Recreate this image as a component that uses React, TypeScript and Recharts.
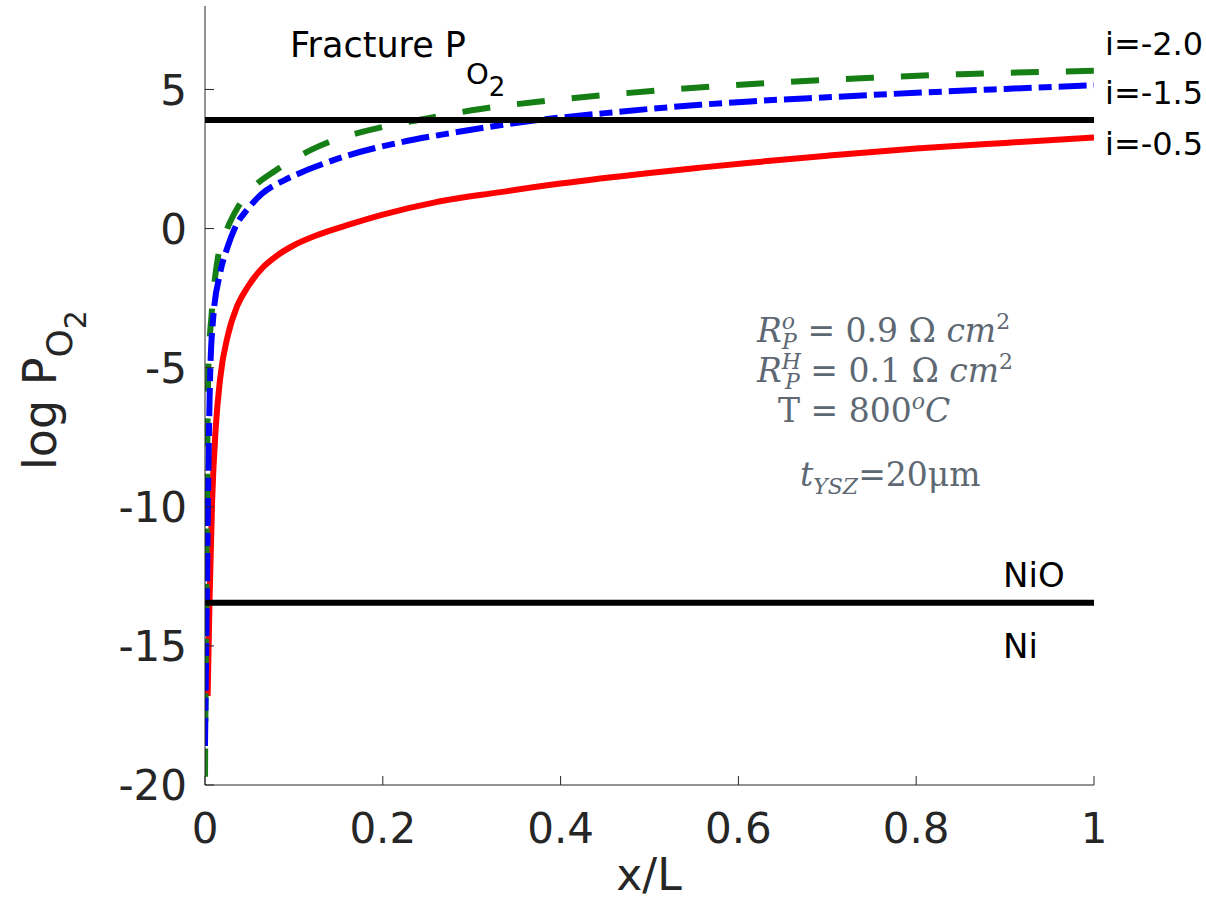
import React from 'react';
import { LineChart, Line, XAxis, YAxis, ReferenceLine } from 'recharts';

// axis ticks
const xTicks = [0, 0.2, 0.4, 0.6, 0.8, 1];
const yTicks = [-20, -15, -10, -5, 0, 5];

// horizontal reference levels (log PO2)
const fracturePO2 = 3.9;
const nioBoundary = -13.45;

// i = -0.5 (red, solid)
const xRed = [0.003, 0.005, 0.008, 0.012, 0.017, 0.026, 0.036, 0.048, 0.065, 0.082, 0.1, 0.125, 0.16, 0.2, 0.26, 0.33, 0.4, 0.5, 0.56, 0.61, 0.7, 0.8, 0.9, 1.0];
const logRed = [-16.8, -13.5, -9.8, -7.2, -5.4, -3.8, -2.8, -2.1, -1.4, -0.95, -0.6, -0.25, 0.12, 0.5, 0.95, 1.3, 1.62, 2.0, 2.2, 2.36, 2.62, 2.88, 3.08, 3.27];

// i = -1.5 (blue, dash-dot)
const xBlue = [0, 0.001, 0.002, 0.0035, 0.0056, 0.009, 0.017, 0.025, 0.034, 0.048, 0.064, 0.09, 0.107, 0.124, 0.16, 0.22, 0.28, 0.37, 0.45, 0.557, 0.613, 0.7, 0.8, 0.9, 1.0];
const logBlue = [-18.6, -16.0, -13.5, -9.5, -5.5, -3.3, -1.6, -0.7, 0.05, 0.7, 1.25, 1.75, 2.0, 2.22, 2.62, 3.1, 3.45, 3.88, 4.15, 4.45, 4.57, 4.72, 4.88, 5.02, 5.15];

// i = -2.0 (green, dashed)
const xGreen = [0, 0.001, 0.002, 0.0037, 0.0075, 0.0146, 0.025, 0.037, 0.055, 0.079, 0.1, 0.124, 0.14, 0.18, 0.257, 0.3, 0.38, 0.45, 0.568, 0.65, 0.75, 0.85, 1.0];
const logGreen = [-19.7, -15.0, -10.5, -5.1, -3.06, -1.03, 0.0, 0.77, 1.5, 2.08, 2.5, 2.9, 3.12, 3.5, 4.0, 4.25, 4.58, 4.8, 5.1, 5.26, 5.42, 5.55, 5.67];

const seriesLabels = ['i=-2.0', 'i=-1.5', 'i=-0.5'];

const toPoints = (xs: number[], ys: number[]) => xs.map((x, i) => ({ x, y: ys[i] }));

const AXIS = '#262626';
const FONT = '"DejaVu Sans", sans-serif';
const MATH = '"DejaVu Serif", serif';
const MATH_COLOR = '#5d6872';

const BottomTick = ({ x, y, payload }: any) => (
  <g>
    <line x1={x} y1={y} x2={x} y2={y - 9} stroke={AXIS} />
    <text x={x} y={y + 58} textAnchor="middle" fontSize={42} fontFamily={FONT} fill={AXIS}>
      {String(payload.value)}
    </text>
  </g>
);

const TopTick = ({ x, y }: any) => <line x1={x} y1={y} x2={x} y2={y + 9} stroke={AXIS} />;

const LeftTick = ({ x, y, payload }: any) => (
  <g>
    <line x1={x} y1={y} x2={x + 9} y2={y} stroke={AXIS} />
    <text x={x - 18} y={y} dy="0.36em" textAnchor="end" fontSize={42} fontFamily={FONT} fill={AXIS}>
      {String(payload.value)}
    </text>
  </g>
);

const RightTick = ({ x, y }: any) => <line x1={x} y1={y} x2={x - 9} y2={y} stroke={AXIS} />;

export default function App() {
  return (
    <div style={{ position: 'absolute', left: 0, top: 0, background: '#fff' }}>
      <LineChart width={1206} height={904} margin={{ top: 6, right: 112, bottom: 0, left: 0 }}>
        <XAxis xAxisId="b" type="number" dataKey="x" domain={[0, 1]} ticks={xTicks} orientation="bottom"
          height={119} tickSize={0} tickMargin={0} tick={<BottomTick />} axisLine={{ stroke: AXIS }} allowDataOverflow />
        <XAxis xAxisId="t" type="number" dataKey="x" domain={[0, 1]} ticks={xTicks} orientation="top"
          height={0} tickSize={0} tickMargin={0} tick={<TopTick />} axisLine={{ stroke: AXIS }} allowDataOverflow />
        <YAxis yAxisId="l" type="number" domain={[-20, 8]} ticks={yTicks} width={205}
          tickSize={0} tickMargin={0} tick={<LeftTick />} axisLine={{ stroke: AXIS }} allowDataOverflow />
        <YAxis yAxisId="r" type="number" orientation="right" domain={[-20, 8]} ticks={yTicks} width={0}
          tickSize={0} tickMargin={0} tick={<RightTick />} axisLine={{ stroke: AXIS }} allowDataOverflow />

        <Line xAxisId="b" yAxisId="l" data={toPoints(xRed, logRed)} dataKey="y" type="monotone"
          stroke="#ff0000" strokeWidth={6} dot={false} isAnimationActive={false} />
        <Line xAxisId="b" yAxisId="l" data={toPoints(xGreen, logGreen)} dataKey="y" type="monotone"
          stroke="#157f15" strokeWidth={6} strokeDasharray="28 27" dot={false} isAnimationActive={false} />
        <Line xAxisId="b" yAxisId="l" data={toPoints(xBlue, logBlue)} dataKey="y" type="monotone"
          stroke="#0000ff" strokeWidth={6} strokeDasharray="28 7 13 7" dot={false} isAnimationActive={false} />

        <ReferenceLine xAxisId="b" yAxisId="l" y={fracturePO2} stroke="#000" strokeWidth={6} />
        <ReferenceLine xAxisId="b" yAxisId="l" y={nioBoundary} stroke="#000" strokeWidth={6} />

        <g fontFamily={FONT} fill="#000">
          <text x={290} y={57} fontSize={35}>
            Fracture P
            <tspan fontSize={29} dy={27}>O</tspan>
            <tspan fontSize={26} dy={12}>2</tspan>
          </text>
          <text x={1003} y={587} fontSize={34}>NiO</text>
          <text x={1003} y={658} fontSize={34}>Ni</text>
          <text x={1105} y={55} fontSize={32}>{seriesLabels[0]}</text>
          <text x={1105} y={104} fontSize={32}>{seriesLabels[1]}</text>
          <text x={1105} y={155} fontSize={32}>{seriesLabels[2]}</text>
        </g>

        <text x={649} y={890} textAnchor="middle" fontSize={44} fontFamily={FONT} fill={AXIS}>x/L</text>
        <text x={56} y={390} transform="rotate(-90, 56, 390)" textAnchor="middle" fontSize={46} fontFamily={FONT} fill={AXIS}>
          log P
          <tspan fontSize={36} dy={16}>O</tspan>
          <tspan fontSize={30} dy={14}>2</tspan>
        </text>

        <g fontFamily={MATH} fill={MATH_COLOR} fontSize={33}>
          <text x={757} y={342}>
            <tspan fontStyle="italic">R</tspan>
            <tspan fontStyle="italic" fontSize={22} dy={-13}>o</tspan>
            <tspan fontStyle="italic" fontSize={22} dx={-13} dy={20}>P</tspan>
            <tspan dy={-7}> = 0.9 Ω </tspan>
            <tspan fontStyle="italic">cm</tspan>
            <tspan fontSize={22} dy={-13}>2</tspan>
          </text>
          <text x={757} y={382}>
            <tspan fontStyle="italic">R</tspan>
            <tspan fontStyle="italic" fontSize={22} dy={-13}>H</tspan>
            <tspan fontStyle="italic" fontSize={22} dx={-16} dy={20}>P</tspan>
            <tspan dy={-7}> = 0.1 Ω </tspan>
            <tspan fontStyle="italic">cm</tspan>
            <tspan fontSize={22} dy={-13}>2</tspan>
          </text>
          <text x={778} y={422}>
            T = 800
            <tspan fontStyle="italic" fontSize={22} dy={-13}>o</tspan>
            <tspan fontStyle="italic" dy={13}>C</tspan>
          </text>
          <text x={800} y={486}>
            <tspan fontStyle="italic">t</tspan>
            <tspan fontStyle="italic" fontSize={22} dy={8}>YSZ</tspan>
            <tspan dy={-8}>=20μm</tspan>
          </text>
        </g>
      </LineChart>
    </div>
  );
}
